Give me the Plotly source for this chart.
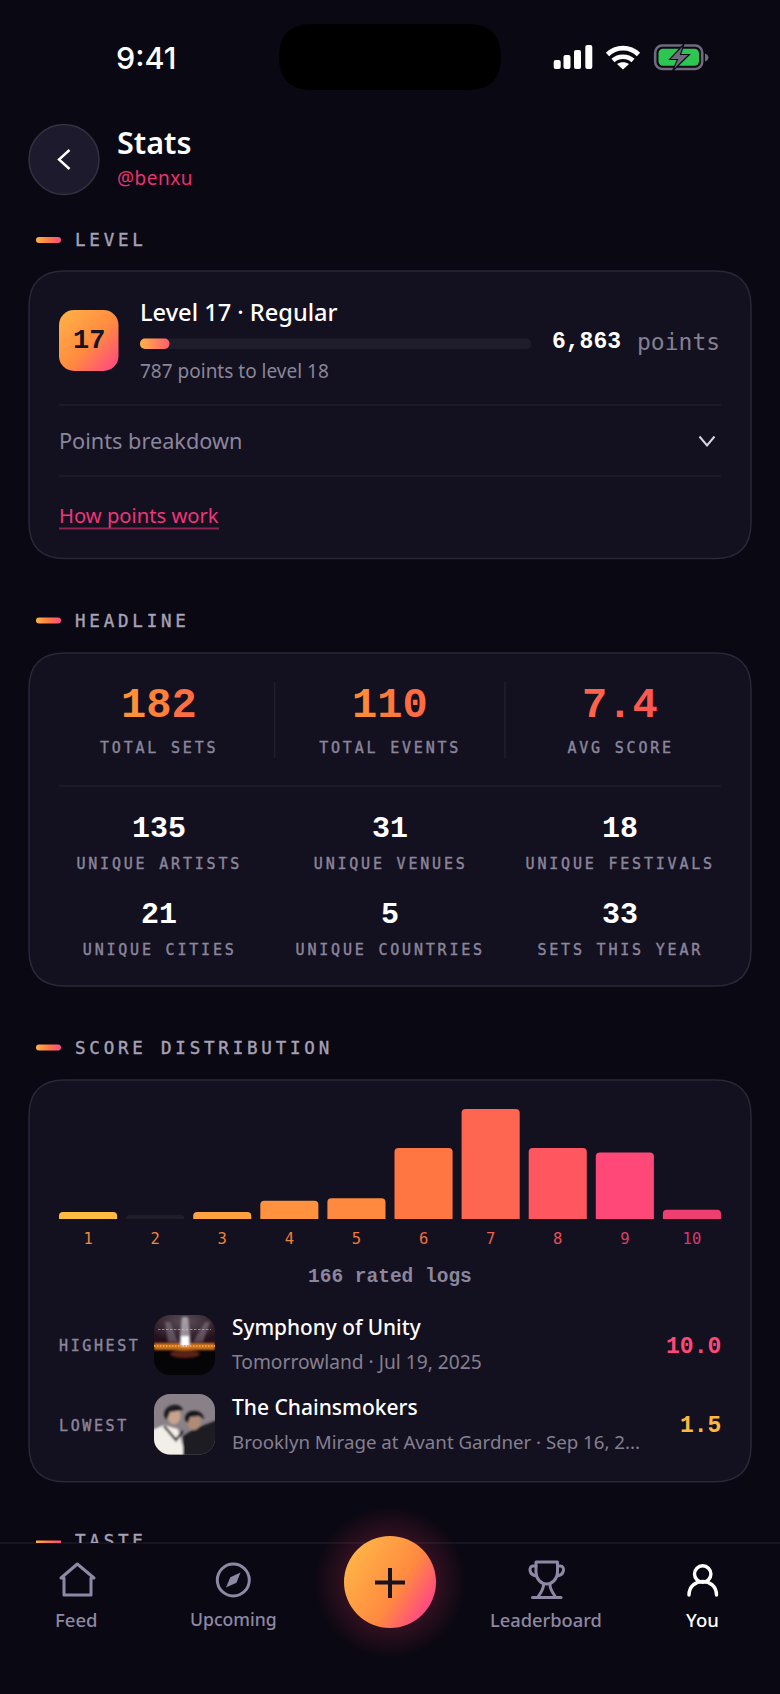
import base64

import plotly.graph_objects as go

# score distribution
scores = [1, 2, 3, 4, 5, 6, 7, 8, 9, 10]
counts = [3, 0, 3, 8, 9, 31, 48, 31, 29, 4]
min_bar = {0: 1.8}  # the app still draws a stub for empty scores
bar_colors = ["#FFBC40", "#201D2B", "#FFA23F", "#FF923E", "#FF8A3F",
              "#FF7642", "#FF6651", "#FF5660", "#FF4878", "#EE3F70"]
tick_colors = ["#EE8A3C", "#EE8A3C", "#EE823C", "#EE7F3C", "#EE7A3C",
               "#EE703F", "#E8644A", "#E85058", "#D84068", "#D83A70"]

# headline numbers
top_values = ["182", "110", "7.4"]
top_labels = ["TOTAL SETS", "TOTAL EVENTS", "AVG SCORE"]
top_colors = [["#FF9036", "#FF8038", "#FF6E42"],
              ["#FF8A36", "#FF7A3A", "#FF6C44"],
              ["#FF644A", "#FF5E4C", "#FF5850"]]
grid_values = ["135", "31", "18", "21", "5", "33"]
grid_labels = ["UNIQUE ARTISTS", "UNIQUE VENUES", "UNIQUE FESTIVALS",
               "UNIQUE CITIES", "UNIQUE COUNTRIES", "SETS THIS YEAR"]

BG = "#0A0812"
CARD = "#13101F"
LINE = "#211E2E"
MUTED = "#8B869C"
PINK = "#F0357A"
BODY = "Noto Sans"
MONO = "Liberation Mono"
LABEL = "DejaVu Sans Mono"

shapes = []
images = []
notes = []
spacing = {}


def rrect(x0, y0, x1, y1, r):
    return (f"M{x0+r},{y0} H{x1-r} Q{x1},{y0} {x1},{y0+r} V{y1-r} Q{x1},{y1} {x1-r},{y1} "
            f"H{x0+r} Q{x0},{y1} {x0},{y1-r} V{y0+r} Q{x0},{y0} {x0+r},{y0} Z")


def box(x0, y0, x1, y1, r, fill, border=None, width=1.5):
    shapes.append(dict(type="path", path=rrect(x0, y0, x1, y1, r), fillcolor=fill, layer="below",
                       line=dict(color=border or fill, width=width if border else 0)))


def rule(x0, y0, x1, y1, color=LINE, width=1.5):
    shapes.append(dict(type="line", x0=x0, y0=y0, x1=x1, y1=y1, layer="below",
                       line=dict(color=color, width=width)))


def icon(inner, x, y, w, h, layer="below"):
    # inner svg is written in page pixels, the viewBox crops it to this spot
    svg = (f'<svg xmlns="http://www.w3.org/2000/svg" width="{w}" height="{h}" '
           f'viewBox="{x} {y} {w} {h}">{inner}</svg>')
    src = "data:image/svg+xml;base64," + base64.b64encode(svg.encode()).decode()
    images.append(dict(source=src, xref="x", yref="y", x=x, y=y, sizex=w, sizey=h,
                       xanchor="left", yanchor="top", sizing="stretch", layer=layer))


def text(x, y, s, size, color, font=BODY, anchor="left", weight=400, ls=None):
    notes.append(dict(x=x, y=y, xref="x", yref="y", text=s, showarrow=False, xanchor=anchor,
                      yanchor="middle", align=anchor, borderpad=0, borderwidth=0,
                      font=dict(size=size, color=color, family=font, weight=weight)))
    if ls is not None:
        spacing[s] = ls


def spans(chars, colors):
    return "".join(f'<span style="color:{c}">{ch}</span>' for ch, c in zip(chars, colors))


def grad(id_, x0, y0, x1, y1, stops):
    st = "".join(f'<stop offset="{o}" stop-color="{c}"/>' for o, c in stops)
    return (f'<defs><linearGradient id="{id_}" gradientUnits="userSpaceOnUse" x1="{x0}" y1="{y0}" '
            f'x2="{x1}" y2="{y1}">{st}</linearGradient></defs>')


def section(y, label):
    icon(grad("d", 36, y, 61, y, [(0, "#FFB347"), (0.5, "#FF7A45"), (1, "#FF4D85")])
         + f'<rect x="36" y="{y-3}" width="25" height="6" rx="3" fill="url(#d)"/>', 34, y - 5, 29, 10)
    text(75, y, label, 17.5, "#A6A1B5", LABEL, ls=3.8)


# status bar
box(279, 24, 501, 90, 33, "#000000")
text(146, 57, "9:41", 30.5, "#FFFFFF", "Inter", "center", 500)
for bx, by in zip([553.7, 563.5, 574, 585.3], [60, 55, 50, 45]):
    box(bx, by, bx + 7, 69, 2, "#FFFFFF")
icon('<g fill="none" stroke="#fff" stroke-width="4.6" stroke-linecap="butt">'
     '<path d="M607.5 54.5 C616 46 630 46 638.5 54.5"/><path d="M613 60.5 C618.5 55.5 627.5 55.5 633 60.5"/></g>'
     '<path d="M617 64 C620.5 61.6 625.5 61.6 629 64 L623 69.5 Z" fill="#fff"/>', 604, 42, 38, 30)
icon('<rect x="655.2" y="45.5" width="47" height="23.5" rx="7" fill="none" stroke="#6F6A7E" stroke-width="2.6"/>'
     '<rect x="658.5" y="48.8" width="40.5" height="17" rx="4.5" fill="#2DC653"/>'
     '<path d="M705 53.5 C707.5 54.5 708.5 56 708.5 57.5 C708.5 59 707.5 60.5 705 61.5 Z" fill="#6F6A7E"/>'
     '<path d="M684 44 L669.5 59.5 H677.5 L672.5 71 L689.5 54.5 H680.5 Z" fill="#6F6A7E" stroke="#0A0812" stroke-width="1.1"/>',
     652, 42, 58, 30)

# header
shapes.append(dict(type="circle", x0=29, y0=124.5, x1=99, y1=194.5, fillcolor="#1C1A2C", layer="below",
                   line=dict(color="#34313F", width=1.5)))
shapes.append(dict(type="path", path="M69.5 150 L59 159.5 L69.5 169", layer="below",
                   line=dict(color="#FFFFFF", width=2.4)))
text(117, 142, "Stats", 30.5, "#FFFFFF", BODY, weight=600)
text(117, 177.5, "@benxu", 19, "#E8336F", BODY, ls=0.5)

# level card
section(240, "LEVEL")
box(29, 271, 751, 558.5, 36, CARD, "#2A2738")
icon(grad("b", 59, 312, 118, 370, [(0, "#FFB347"), (0.55, "#FF8A40"), (1, "#FF4388")])
     + '<rect x="59" y="310" width="59.5" height="61" rx="15" fill="url(#b)"/>', 57, 308, 64, 65)
text(89, 341, "17", 27, "#17131F", MONO, "center", 700)
text(140, 311.5, "Level 17 · Regular", 23.6, "#FFFFFF", BODY, weight=500)
box(140, 338.5, 531, 349, 5, "#1F1C2C")
icon(grad("p", 140, 344, 170, 344, [(0, "#FFB347"), (1, "#FF5C6C")])
     + '<rect x="140" y="338.5" width="29.5" height="10.5" rx="5" fill="url(#p)"/>', 138, 336, 34, 15)
text(552, 342, "6,863", 23, "#FFFFFF", MONO, weight=700)
text(637, 341.5, "points", 23, "#85808F", LABEL)
text(140, 371, "787 points to level 18", 19, "#8A8698")
rule(59, 405, 721, 405)
text(59, 440, "Points breakdown", 21.7, MUTED)
shapes.append(dict(type="path", path="M699.5 436.5 L707 445.5 L714.5 436.5", layer="below",
                   line=dict(color="#D8D5E0", width=2)))
rule(59, 476, 721, 476)
text(59, 515, "How points work", 20.2, PINK)
rule(59, 528.5, 219, 528.5, "#8C2450", 2)

# headline card
section(620.5, "HEADLINE")
box(29, 653, 751, 986, 36, CARD, "#2A2738")
rule(274.6, 682, 274.6, 758)
rule(505, 682, 505, 758)
for cx, val, lab, cols in zip([159, 390, 620], top_values, top_labels, top_colors):
    text(cx, 705.5, spans(val, cols), 42, cols[0], MONO, "center", 700)
    text(cx, 747.7, lab, 15, MUTED, LABEL, "center", ls=2.8)
rule(59, 786, 721, 786)
for i, (val, lab) in enumerate(zip(grid_values, grid_labels)):
    cx = [159, 390, 620][i % 3]
    y0 = [828.5, 915][i // 3]
    text(cx, y0, val, 30, "#FFFFFF", MONO, "center", 700)
    text(cx, y0 + 35, lab, 15, MUTED, LABEL, "center", ls=2.8)

# score card
section(1047.5, "SCORE DISTRIBUTION")
box(29, 1080, 751, 1481.7, 36, CARD, "#2A2738")
text(390, 1277, "166 rated logs", 19.5, MUTED, MONO, "center", 700)

text(59, 1346, "HIGHEST", 15, MUTED, LABEL, ls=2.6)
icon('<defs><clipPath id="c1"><rect x="154" y="1315" width="61" height="60" rx="16"/></clipPath>'
     '<filter id="f1" x="-20%" y="-20%" width="140%" height="140%"><feGaussianBlur stdDeviation="1.3"/></filter>'
     '<radialGradient id="g1" cx="0.5" cy="0.2" r="0.7"><stop offset="0" stop-color="#5A4E56"/>'
     '<stop offset="1" stop-color="#24101C"/></radialGradient></defs>'
     '<g clip-path="url(#c1)"><rect x="154" y="1315" width="61" height="60" fill="#050406"/>'
     '<rect x="154" y="1315" width="61" height="31" fill="url(#g1)"/>'
     '<g filter="url(#f1)">'
     '<path d="M182 1317 L188 1317 L191 1344 L179 1344 Z" fill="#D8D4E0" opacity=".6"/>'
     '<path d="M165 1322 L170 1322 L178 1342 L168 1342 Z" fill="#A89CA8" opacity=".4"/>'
     '<path d="M205 1322 L210 1322 L203 1342 L193 1342 Z" fill="#A89CA8" opacity=".4"/>'
     '<rect x="154" y="1343" width="61" height="7" fill="#C8701C"/>'
     '<rect x="181" y="1336" width="8" height="10" fill="#FFFFFF"/>'
     '<ellipse cx="185" cy="1354" rx="15" ry="4" fill="#5A2018"/></g>'
     '<path d="M158 1329.5 H211" stroke="#C8C4CC" stroke-width="1" stroke-dasharray="2.5 1.5" opacity=".6"/>'
     '<path d="M154 1346 H215" stroke="#F0A040" stroke-width="2" stroke-dasharray="1.5 1.5"/></g>',
     152, 1313, 65, 64)
text(232, 1327, "Symphony of Unity", 20.8, "#FFFFFF", BODY, weight=500)
text(232, 1361, "Tomorrowland · Jul 19, 2025", 19.2, "#85808F")
text(721, 1346.5, spans("10.0", ["#FF4878"] * 4), 23, "#FF4878", MONO, "right", 700)

text(59, 1426, "LOWEST", 15, MUTED, LABEL, ls=2.6)
icon('<defs><clipPath id="c2"><rect x="154" y="1394" width="61" height="60.5" rx="16"/></clipPath>'
     '<filter id="f2" x="-20%" y="-20%" width="140%" height="140%"><feGaussianBlur stdDeviation="0.9"/></filter></defs>'
     '<g clip-path="url(#c2)"><rect x="154" y="1394" width="61" height="61" fill="#8A8188"/>'
     '<g filter="url(#f2)">'
     '<path d="M150 1458 V1431 L164 1425 L178 1429 L186 1458 Z" fill="#F2EEE8"/>'
     '<path d="M164 1426 L176 1440 L183 1431" fill="none" stroke="#2A2630" stroke-width="2.4"/>'
     '<path d="M183 1458 L183 1436 L194 1429 L220 1419 V1458 Z" fill="#1C1A24"/>'
     '<ellipse cx="174" cy="1416" rx="6.5" ry="8.5" fill="#C8A48E"/>'
     '<path d="M164 1416 C163 1404 180 1401 183 1410 L177 1411 L170 1412 L167 1420 Z" fill="#1C1A22"/>'
     '<ellipse cx="194" cy="1422" rx="6.5" ry="8" fill="#B08C76"/>'
     '<path d="M185 1420 C184 1408 203 1408 204 1419 L199 1416 L190 1417 L188 1423 Z" fill="#16141C"/>'
     '</g></g>', 152, 1392, 65, 65)
text(232, 1407, "The Chainsmokers", 21, "#FFFFFF", BODY, weight=500)
text(232, 1441, "Brooklyn Mirage at Avant Gardner · Sep 16, 2...", 18.7, "#85808F")
text(721, 1426, "1.5", 23, "#FFB83F", MONO, "right", 700)

# bottom nav sits over the next section, its heading is cut by the clip of axis 3
icon(grad("t", 36, 1542, 61, 1542, [(0, "#FFB347"), (0.5, "#FF7A45"), (1, "#FF4D85")])
     + '<rect x="36" y="1540.5" width="25" height="2.5" fill="url(#t)"/>', 36, 1540, 25, 3)
rule(0, 1543, 780, 1543, "#1B1826", 1.5)

icon('<defs><radialGradient id="g"><stop offset="0.6" stop-color="#FF3868" stop-opacity=".16"/>'
     '<stop offset="1" stop-color="#FF3868" stop-opacity="0"/></radialGradient></defs>'
     '<circle cx="390" cy="1582" r="76" fill="url(#g)"/>', 314, 1506, 152, 152)
icon(grad("f", 350, 1556, 432, 1608, [(0, "#FFB347"), (0.6, "#FF8A40"), (1, "#FF4388")])
     + '<circle cx="390" cy="1582" r="46" fill="url(#f)"/>', 342, 1534, 96, 96)
for p in ["M375 1582.5 H405", "M390 1568 V1598"]:
    shapes.append(dict(type="path", path=p, layer="above", line=dict(color="#17131F", width=4)))

NAV = "#8E88A5"
icon(f'<path d="M61 1578 L77.3 1564 L94 1578 H91 V1595 H64 V1578 Z" fill="none" stroke="{NAV}" '
     'stroke-width="3" stroke-linejoin="round"/>', 56, 1558, 44, 42)
icon(f'<circle cx="233.3" cy="1580" r="16" fill="none" stroke="{NAV}" stroke-width="3"/>'
     f'<path d="M240.5 1572.5 L236.5 1582.8 L226 1587.5 L230.3 1577.2 Z" fill="{NAV}"/>', 212, 1559, 43, 42)
icon(f'<g fill="none" stroke="{NAV}" stroke-width="3" stroke-linecap="round" stroke-linejoin="round">'
     '<path d="M536 1562 H557.5 V1572 C557.5 1579 552 1584 546.7 1584 C541 1584 536 1579 536 1572 Z"/>'
     '<path d="M536 1566 H533 C528.5 1566 528.5 1575 536.5 1576"/><path d="M557.5 1566 H560.5 C565 1566 565 1575 557 1576"/>'
     '<path d="M543.5 1584 C544 1589 541 1592 538 1597"/><path d="M550 1584 C549.5 1589 552.5 1592 555.5 1597"/>'
     '<path d="M532.5 1597.5 H561"/></g>', 524, 1556, 46, 46)
icon('<g fill="none" stroke="#fff" stroke-width="3.4" stroke-linecap="round"><circle cx="702.7" cy="1574" r="8.2"/>'
     '<path d="M689 1595 C689 1577 716.5 1577 716.5 1595"/></g>', 683, 1560, 40, 40)
text(76, 1619, "Feed", 18.5, NAV, anchor="center", weight=500)
text(233, 1619, "Upcoming", 17.6, NAV, anchor="center", weight=500)
text(546, 1619, "Leaderboard", 18.3, NAV, anchor="center", weight=500)
text(702.5, 1619, "You", 18.5, "#FFFFFF", anchor="center", weight=500)

page_x = dict(range=[0, 780], domain=[0, 1], visible=False, fixedrange=True)
fig = go.Figure()
# empty trace so the page axes exist
fig.add_trace(go.Scatter(x=[0], y=[0], mode="markers", marker=dict(opacity=0), hoverinfo="skip",
                         xaxis="x", yaxis="y"))
fig.add_trace(go.Bar(x=scores, y=[max(c, min_bar.get(c, 0)) for c in counts], xaxis="x2", yaxis="y2",
                     marker=dict(color=bar_colors, line=dict(width=0), cornerradius=4),
                     hoverinfo="skip"))
fig.add_trace(go.Scatter(x=[75], y=[1542.9], text=["TASTE"], mode="text", textposition="middle right",
                         textfont=dict(size=17.5, color="#A6A1B5", family=LABEL), cliponaxis=True,
                         xaxis="x3", yaxis="y3", hoverinfo="skip"))
spacing["TASTE"] = 3.8

fig.update_layout(
    width=780, height=1694, margin=dict(l=0, r=0, t=0, b=0), autosize=False,
    paper_bgcolor=BG, plot_bgcolor="rgba(0,0,0,0)", showlegend=False, hovermode=False,
    bargap=0.134, shapes=shapes, images=images, annotations=notes,
    xaxis=page_x,
    yaxis=dict(range=[1694, 0], domain=[0, 1], visible=False, fixedrange=True),
    xaxis2=dict(range=[0.5, 10.5], domain=[54.5 / 780, 725.5 / 780], anchor="y2", fixedrange=True,
                showgrid=False, zeroline=False, showline=False, ticks="", tickmode="array", tickvals=scores,
                ticktext=[f'<span style="color:{c}">{s}</span>' for s, c in zip(scores, tick_colors)],
                tickfont=dict(size=15.5, family=LABEL, color=tick_colors[0]), ticklabelstandoff=8, tickangle=0),
    yaxis2=dict(range=[0, 48], domain=[(1694 - 1219) / 1694, (1694 - 1109) / 1694], anchor="x2",
                visible=False, fixedrange=True),
    xaxis3=dict(range=[0, 780], domain=[0, 1], anchor="y3", visible=False, fixedrange=True),
    yaxis3=dict(range=[1543, 0], domain=[(1694 - 1543) / 1694, 1], anchor="x3", visible=False, fixedrange=True),
)

# plotly has no letter spacing for text, so it gets set on the drawn labels
# a thin stroke brings the labels up to the weight of the original mono face
post = """
document.body.style.margin = '0';
document.body.style.background = '%s';
var sp = %s;
function applySpacing() {
  document.querySelectorAll('.annotation-text, .textpoint text').forEach(function (t) {
    var s = sp[t.textContent];
    if (s !== undefined) {
      t.style.letterSpacing = s + 'px';
      if (s > 2) { t.style.stroke = t.style.fill; t.style.strokeWidth = '0.4px'; }
    }
  });
}
applySpacing();
setTimeout(applySpacing, 50);
""" % (BG, str(spacing).replace("'", '"'))

fig.write_html("out.html", post_script=post, config={"displayModeBar": False})
